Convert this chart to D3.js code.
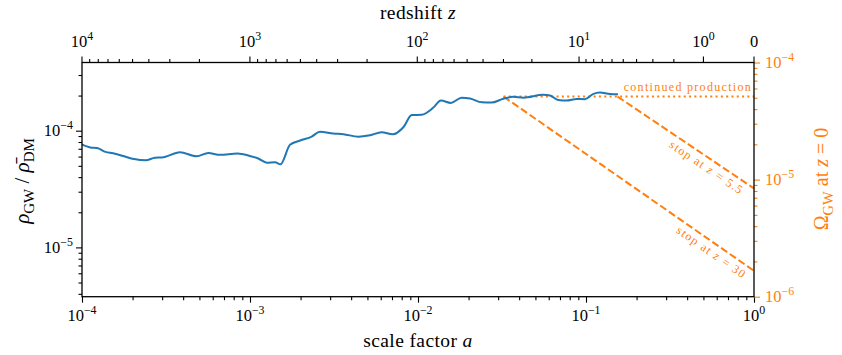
<!DOCTYPE html>
<html>
<head>
<meta charset="utf-8">
<script src="https://cdn.jsdelivr.net/npm/d3@7"></script>
<style>
  body { margin: 0; background: #fff; }
  svg { font-family: "Liberation Serif", "DejaVu Serif", serif; }
</style>
</head>
<body>
<div id="chart"></div>
<script>
// ---------- data ----------
// scale factor a along the simulated curve
var aVals = [1.00e-4, 1.12e-4, 1.23e-4, 1.38e-4, 1.53e-4, 1.76e-4, 2.04e-4, 2.40e-4, 2.72e-4, 2.99e-4,
  3.83e-4, 4.81e-4, 5.65e-4, 6.62e-4, 8.43e-4, 1.00e-3, 1.12e-3, 1.26e-3, 1.41e-3, 1.52e-3,
  1.73e-3, 1.99e-3, 2.33e-3, 2.61e-3, 3.13e-3, 3.60e-3, 4.42e-3, 5.18e-3, 6.08e-3, 7.06e-3,
  8.18e-3, 9.18e-3, 1.05e-2, 1.23e-2, 1.37e-2, 1.57e-2, 1.82e-2, 2.04e-2, 2.40e-2, 2.74e-2,
  3.22e-2, 3.69e-2, 4.24e-2, 5.57e-2, 6.11e-2, 6.84e-2, 7.67e-2, 8.81e-2, 9.86e-2, 1.10e-1,
  1.21e-1, 1.39e-1, 1.55e-1];
// rho_GW / rho_DM
var rhoVals = [7.62e-5, 7.18e-5, 7.11e-5, 6.58e-5, 6.41e-5, 6.07e-5, 5.71e-5, 5.57e-5, 5.87e-5, 5.89e-5,
  6.53e-5, 6.04e-5, 6.44e-5, 6.21e-5, 6.38e-5, 6.07e-5, 5.78e-5, 5.32e-5, 5.36e-5, 5.16e-5,
  7.57e-5, 8.24e-5, 8.91e-5, 9.80e-5, 9.46e-5, 9.33e-5, 8.89e-5, 9.14e-5, 9.68e-5, 9.31e-5,
  1.07e-4, 1.36e-4, 1.37e-4, 1.57e-4, 1.81e-4, 1.73e-4, 1.92e-4, 1.89e-4, 1.75e-4, 1.74e-4,
  1.88e-4, 1.95e-4, 1.92e-4, 2.03e-4, 2.00e-4, 1.83e-4, 1.81e-4, 1.87e-4, 1.86e-4, 2.06e-4,
  2.12e-4, 2.06e-4, 2.05e-4];

// extrapolations (endpoints)
var contA = [0.0323, 1], contRho = [1.96e-4, 1.96e-4];
var stop30A = [0.0323, 1], stop30Rho = [1.96e-4, 6.3e-6];
var stop55A = [0.154, 1], stop55Rho = [1.96e-4, 3.2e-5];

// axis ticks
var xMajor = [1e-4, 1e-3, 1e-2, 1e-1, 1];
var xMajorExp = ["−4", "−3", "−2", "−1", "0"];
var zMajor = [1e4, 1e3, 1e2, 1e1, 1e0];
var zMajorExp = ["4", "3", "2", "1", "0"];
var yLeftMajor = [1e-5, 1e-4];
var yLeftMajorExp = ["−5", "−4"];
var yRightMajor = [1e-6, 1e-5, 1e-4];
var yRightMajorExp = ["−6", "−5", "−4"];

/* ---------- layout ---------- */
var W = 842, H = 355;
var pL = 82, pR = 754, pT = 62.5, pB = 296.7;
var blue = "#1f77b4", orange = "#ff7f0e";

var svg = d3.select("#chart").append("svg")
  .attr("width", W).attr("height", H);

var x = d3.scaleLog().domain([1e-4, 1]).range([pL, pR]);
var y = d3.scaleLog().domain([3.78e-6, 3.84e-4]).range([pB, pT]);
var yR = d3.scaleLog().domain([1e-6, 1e-4]).range([pB, pT]);

// minor tick helper
function minors(lo, hi) {
  var out = [];
  for (var e = -8; e <= 5; e++) {
    for (var k = 2; k <= 9; k++) {
      var v = k * Math.pow(10, e);
      if (v >= lo && v <= hi) out.push(v);
    }
  }
  return out;
}

function styleAxis(g, col) {
  g.select(".domain").remove();
  g.selectAll(".tick line").attr("stroke", col).attr("stroke-width", 1.1);
  g.selectAll(".tick text").remove();
}

// bottom axis
svg.append("g").attr("transform", "translate(0," + pB + ")")
  .call(d3.axisBottom(x).tickValues(xMajor).tickSize(6)).call(styleAxis, "#000");
svg.append("g").attr("transform", "translate(0," + pB + ")")
  .call(d3.axisBottom(x).tickValues(minors(1e-4, 1)).tickSize(3.5)).call(styleAxis, "#000");

// top axis: redshift, a = 1/(1+z)
function zx(z) { return x(1 / (1 + z)); }
var zMinor = minors(1, 1e4).filter(function(z) { return zMajor.indexOf(z) < 0; });
var gTop = svg.append("g");
gTop.selectAll("line.maj").data(zMajor.concat([0])).enter().append("line")
  .attr("x1", zx).attr("x2", zx).attr("y1", pT).attr("y2", pT - 6)
  .attr("stroke", "#000").attr("stroke-width", 1.1);
gTop.selectAll("line.min").data(zMinor).enter().append("line")
  .attr("x1", zx).attr("x2", zx).attr("y1", pT).attr("y2", pT - 3.5)
  .attr("stroke", "#000").attr("stroke-width", 1.1);

// left axis
svg.append("g").attr("transform", "translate(" + pL + ",0)")
  .call(d3.axisLeft(y).tickValues(yLeftMajor).tickSize(6)).call(styleAxis, "#000");
svg.append("g").attr("transform", "translate(" + pL + ",0)")
  .call(d3.axisLeft(y).tickValues(minors(3.78e-6, 3.84e-4)).tickSize(3.5)).call(styleAxis, "#000");

// right axis
svg.append("g").attr("transform", "translate(" + pR + ",0)")
  .call(d3.axisRight(yR).tickValues(yRightMajor).tickSize(6)).call(styleAxis, orange);
svg.append("g").attr("transform", "translate(" + pR + ",0)")
  .call(d3.axisRight(yR).tickValues(minors(1e-6, 1e-4)).tickSize(3.5)).call(styleAxis, orange);

// power-of-ten labels
function powLabel(g, px, py, exp, anchor, col, fs) {
  var t = g.append("text").attr("x", px).attr("y", py)
    .attr("text-anchor", anchor).attr("fill", col).style("font-size", fs + "px");
  t.append("tspan").text("10");
  t.append("tspan").attr("dy", -fs * 0.42).style("font-size", (fs * 0.72) + "px").text(exp);
  return t;
}

var fsTick = 16.5;
xMajor.forEach(function(v, i) { powLabel(svg, x(v), 321, xMajorExp[i], "middle", "#000", fsTick); });
zMajor.forEach(function(v, i) { powLabel(svg, zx(v), 47, zMajorExp[i], "middle", "#000", fsTick); });
svg.append("text").attr("x", zx(0)).attr("y", 47).attr("text-anchor", "middle")
  .style("font-size", fsTick + "px").text("0");
yLeftMajor.forEach(function(v, i) { powLabel(svg, pL - 9, y(v) + 5.5, yLeftMajorExp[i], "end", "#000", fsTick); });
yRightMajor.forEach(function(v, i) { powLabel(svg, pR + 11, yR(v) + 5.5, yRightMajorExp[i], "start", orange, fsTick); });

// axis titles
var fsLab = 19.5;
var tz = svg.append("text").attr("x", (pL + pR) / 2).attr("y", 19)
  .attr("text-anchor", "middle").style("font-size", fsLab + "px").style("letter-spacing", "0.4px");
tz.append("tspan").text("redshift ");
tz.append("tspan").style("font-style", "italic").text("z");

var ta = svg.append("text").attr("x", (pL + pR) / 2).attr("y", 347)
  .attr("text-anchor", "middle").style("font-size", fsLab + "px").style("letter-spacing", "0.4px");
ta.append("tspan").text("scale factor ");
ta.append("tspan").style("font-style", "italic").text("a");

var tl = svg.append("text").attr("transform", "translate(29,181) rotate(-90)")
  .attr("text-anchor", "middle").style("font-size", "21px");
tl.append("tspan").style("font-style", "italic").text("ρ");
tl.append("tspan").attr("dy", 5).style("font-size", "15px").text("GW");
tl.append("tspan").attr("dy", -5).text(" / ");
tl.append("tspan").style("font-style", "italic").text("ρ̄");
tl.append("tspan").attr("dy", 5).style("font-size", "15px").text("DM");

var tr = svg.append("text").attr("transform", "translate(828,179) rotate(-90)")
  .attr("text-anchor", "middle").attr("fill", orange).style("font-size", "20px");
tr.append("tspan").text("Ω");
tr.append("tspan").attr("dy", 5).style("font-size", "14.5px").text("GW");
tr.append("tspan").attr("dy", -5).text(" at ");
tr.append("tspan").style("font-style", "italic").text("z");
tr.append("tspan").text(" = 0");

// ---------- marks ----------
var line = d3.line().x(function(d) { return x(d[0]); }).y(function(d) { return y(d[1]); });

function pairs(a, b) { return a.map(function(v, i) { return [v, b[i]]; }); }

svg.append("path").datum(pairs(contA, contRho)).attr("d", line)
  .attr("fill", "none").attr("stroke", orange).attr("stroke-width", 2)
  .attr("stroke-dasharray", "2,3.3");
svg.append("path").datum(pairs(stop30A, stop30Rho)).attr("d", line)
  .attr("fill", "none").attr("stroke", orange).attr("stroke-width", 2)
  .attr("stroke-dasharray", "7.4,3.2");
svg.append("path").datum(pairs(stop55A, stop55Rho)).attr("d", line)
  .attr("fill", "none").attr("stroke", orange).attr("stroke-width", 2)
  .attr("stroke-dasharray", "7.4,3.2");

svg.append("path").datum(pairs(aVals, rhoVals))
  .attr("d", line.curve(d3.curveMonotoneX))
  .attr("fill", "none").attr("stroke", blue).attr("stroke-width", 2)
  .attr("stroke-linejoin", "round");

// annotations
var fsAnn = 12;
svg.append("text").attr("x", pR - 2).attr("y", y(1.96e-4) - 6)
  .attr("text-anchor", "end").attr("fill", orange)
  .style("font-size", fsAnn + "px").style("letter-spacing", "1.3px")
  .text("continued production");

function stopLabel(aStart, rStart, aEnd, rEnd, aMid, txt) {
  var x0 = x(aStart), y0 = y(rStart), x1 = x(aEnd), y1 = y(rEnd);
  var ang = Math.atan2(y1 - y0, x1 - x0);
  var t = (Math.log(aMid) - Math.log(aStart)) / (Math.log(aEnd) - Math.log(aStart));
  var px = x0 + t * (x1 - x0) - 9 * Math.sin(ang);
  var py = y0 + t * (y1 - y0) + 9 * Math.cos(ang);
  var tt = svg.append("text").attr("transform", "translate(" + px + "," + py + ") rotate(" + (ang * 180 / Math.PI) + ")")
    .attr("text-anchor", "middle").attr("dominant-baseline", "central").attr("fill", orange)
    .style("font-size", fsAnn + "px").style("letter-spacing", "1.3px");
  tt.append("tspan").text("stop at ");
  tt.append("tspan").style("font-style", "italic").text("z");
  tt.append("tspan").text(" = " + txt);
}
stopLabel(stop55A[0], stop55Rho[0], stop55A[1], stop55Rho[1], 0.56, "5.5");
stopLabel(stop30A[0], stop30Rho[0], stop30A[1], stop30Rho[1], 0.6, "30");

// frame
svg.append("rect").attr("x", pL).attr("y", pT)
  .attr("width", pR - pL).attr("height", pB - pT)
  .attr("fill", "none").attr("stroke", "#000").attr("stroke-width", 1.3);
</script>
</body>
</html>
